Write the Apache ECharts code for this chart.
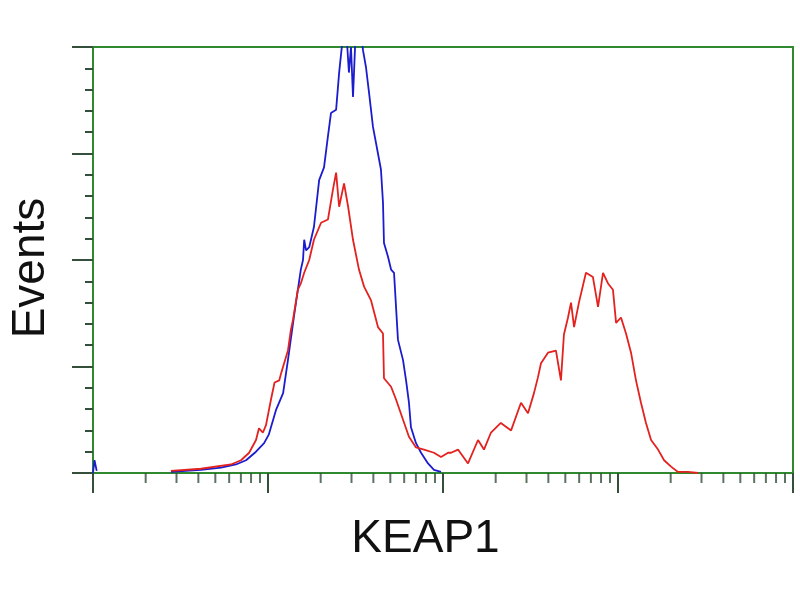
<!DOCTYPE html>
<html>
<head>
<meta charset="utf-8">
<script src="https://cdn.jsdelivr.net/npm/echarts@6/dist/echarts.min.js"></script>
<style>html,body{margin:0;padding:0;background:#fff}#c{width:800px;height:600px}</style>
</head>
<body>
<div id="c"></div>
<script>
// Control (blue) histogram: [fluorescence, events]
var blueData = [
  [1.0, 0], [1.02, 12], [1.05, 2], [1.08, '-'],
  [2.79, 1], [4.14, 3], [5.39, 5], [6.56, 8], [7.49, 12], [8.54, 20], [9.5, 28],
  [10.1, 36], [11.1, 59], [12.2, 75], [13.0, 106], [14.1, 148], [15.4, 191],
  [15.85, 200], [16.1, 219], [16.5, 209], [17.2, 212], [18.3, 231], [19.6, 275],
  [20.9, 287], [22.0, 316], [22.9, 338], [24.5, 341], [25.5, 376], [26.8, 410],
  [27.9, 420], [29.0, 376], [29.8, 400], [30.6, 353], [31.8, 420], [33.1, 430],
  [34.9, 397], [36.3, 381], [37.8, 357], [39.8, 325], [42.5, 300], [44.2, 285],
  [45.4, 254], [46.0, 216], [48.5, 203], [50.5, 191], [52.5, 188], [53.9, 156],
  [55.3, 125], [59.1, 106], [61.5, 87], [63.9, 66], [65.6, 43], [70.1, 28],
  [74.9, 19], [82.1, 9], [88.8, 3], [97.4, 1]
];
// KEAP1-transfected (red) histogram
var redData = [
  [2.79, 2], [4.14, 4], [6.14, 8], [7.01, 12], [7.8, 19], [8.54, 31], [8.88, 42],
  [9.36, 38], [9.74, 45], [10.4, 69], [10.9, 85], [11.6, 87], [11.9, 94], [13.0, 115],
  [13.5, 134], [13.9, 144], [14.8, 172], [15.4, 178], [16.1, 188], [17.2, 200],
  [18.3, 219], [20.1, 235], [22.0, 238], [23.5, 266], [24.5, 282], [25.5, 250],
  [27.2, 272], [28.7, 250], [30.6, 219], [33.1, 191], [35.4, 175], [38.8, 162],
  [42.5, 137], [45.4, 131], [46.0, 89], [50.5, 81], [53.9, 69], [59.1, 50],
  [63.9, 34], [70.1, 24], [77.9, 22], [88.8, 19], [97.4, 15], [106.9, 19],
  [111.2, 19], [121.8, 22], [139, 9], [158.5, 31], [171.5, 22], [188, 38],
  [214, 47], [245, 40], [279, 66], [306, 56], [331, 75], [349, 90], [363, 103],
  [398, 113], [442, 115], [472, 87], [491, 130], [518, 146], [539, 160], [561, 137],
  [598, 160], [656, 188], [719, 184], [769, 156], [821, 188], [877, 178], [936, 172],
  [975, 141], [1040, 146], [1111, 131], [1187, 113], [1267, 87], [1353, 66],
  [1445, 47], [1545, 31], [1694, 22], [1834, 12], [2010, 6], [2203, 1], [2512, 1],
  [2866, 0]
];
var xTitle = 'KEAP1';
var yTitle = 'Events';
var decades = [1, 10, 100, 1000];
var minorMultipliers = [2, 3, 4, 5, 6, 7, 8, 9];

var minorTicks = [];
decades.forEach(function (d) {
  minorMultipliers.forEach(function (m) { minorTicks.push([d * m, 0]); });
});

var green = '#2f8a2f';
var tickColor = '#34503a';
var chart = echarts.init(document.getElementById('c'));
chart.setOption({
  animation: false,
  backgroundColor: '#fff',
  grid: { left: 92, right: 7, top: 47, bottom: 127, show: true, borderColor: green, borderWidth: 2, backgroundColor: 'transparent' },
  xAxis: {
    type: 'log', logBase: 10, min: 1, max: 10000,
    name: xTitle, nameLocation: 'middle', nameGap: 43,
    nameTextStyle: { fontSize: 46, fontFamily: 'Liberation Sans, Arial, sans-serif', color: '#111', padding: [0, 35, 0, 0] },
    axisLine: { show: false },
    axisTick: { show: true, length: 20, lineStyle: { color: tickColor, width: 2 } },
    axisLabel: { show: false },
    splitLine: { show: false },
    minorTick: { show: false }
  },
  yAxis: {
    type: 'value', min: 0, max: 400, interval: 100,
    name: yTitle, nameLocation: 'middle', nameGap: 39,
    nameTextStyle: { fontSize: 46, fontFamily: 'Liberation Sans, Arial, sans-serif', color: '#111', padding: [0, 16, 0, 0] },
    axisLine: { show: false },
    axisTick: { show: true, length: 21, lineStyle: { color: tickColor, width: 2 } },
    minorTick: { show: true, splitNumber: 5, length: 8, lineStyle: { color: tickColor, width: 2 } },
    axisLabel: { show: false },
    splitLine: { show: false }
  },
  series: [
    {
      type: 'scatter', data: minorTicks, symbol: 'rect', symbolSize: [2, 10], symbolOffset: [0, 5],
      itemStyle: { color: tickColor }, silent: true, clip: false, z: 1
    },
    {
      type: 'line', data: blueData, showSymbol: false, symbol: 'none', connectNulls: false,
      lineStyle: { color: '#1c1ccf', width: 1.8 }, clip: true, z: 3
    },
    {
      type: 'line', data: redData, showSymbol: false, symbol: 'none',
      lineStyle: { color: '#e3221f', width: 1.8 }, clip: true, z: 4
    }
  ]
});
</script>
</body>
</html>
